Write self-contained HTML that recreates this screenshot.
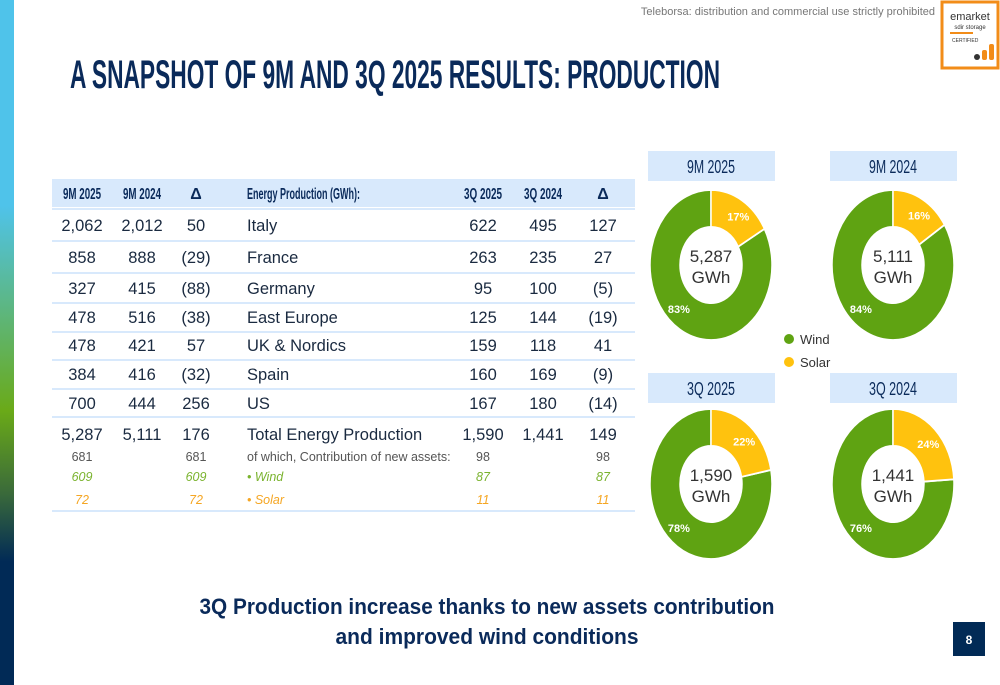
<!DOCTYPE html>
<html><head><meta charset="utf-8"><style>
html,body{margin:0;padding:0;background:#fff;}
svg{display:block;font-family:"Liberation Sans",sans-serif;}
</style></head><body>
<svg id="s" width="1000" height="685" viewBox="0 0 1000 685" xmlns="http://www.w3.org/2000/svg">
<defs>
<linearGradient id="lg" x1="0" y1="0" x2="0" y2="1">
<stop offset="0" stop-color="#4fc3ea"/><stop offset="0.3" stop-color="#4fc3ea"/>
<stop offset="0.6" stop-color="#6aaa18"/><stop offset="0.72" stop-color="#3a6a3a"/>
<stop offset="0.82" stop-color="#012a56"/><stop offset="1" stop-color="#012a56"/>
</linearGradient>
</defs>
<rect x="0" y="0" width="14" height="685" fill="url(#lg)"/>
<text x="935" y="15" font-size="11" fill="#777" text-anchor="end">Teleborsa: distribution and commercial use strictly prohibited</text>
<g>
<rect x="942" y="2" width="56" height="66" fill="#fff" stroke="#f28c18" stroke-width="3"/>
<text x="970" y="20" font-size="11" fill="#333" text-anchor="middle">emarket</text>
<text x="970" y="29" font-size="6" fill="#333" text-anchor="middle">sdir storage</text>
<rect x="950" y="32" width="23" height="2" fill="#f28c18"/>
<text x="952" y="42" font-size="5" fill="#333">CERTIFIED</text>
<circle cx="977" cy="57" r="3" fill="#333"/><rect x="982" y="50" width="5" height="10" rx="2" fill="#f28c18"/><rect x="989" y="44" width="5" height="16" rx="2" fill="#f28c18"/>
</g>
<text x="70" y="88" font-size="40" font-weight="bold" fill="#0a2a5a" textLength="650" lengthAdjust="spacingAndGlyphs">A SNAPSHOT OF 9M AND 3Q 2025 RESULTS: PRODUCTION</text>
<g id="tbl"></g>
<g id="pies"></g>
<g>
<circle cx="789" cy="339" r="5" fill="#5fa312"/>
<text x="800" y="344" font-size="13" fill="#333">Wind</text>
<circle cx="789" cy="362" r="5" fill="#ffc20e"/>
<text x="800" y="367" font-size="13" fill="#333">Solar</text>
</g>
<text x="487" y="614" font-size="22" font-weight="bold" fill="#0a2a5a" text-anchor="middle" textLength="575" lengthAdjust="spacingAndGlyphs">3Q Production increase thanks to new assets contribution</text>
<text x="487" y="644" font-size="22" font-weight="bold" fill="#0a2a5a" text-anchor="middle" textLength="303" lengthAdjust="spacingAndGlyphs">and improved wind conditions</text>
<rect x="953" y="622" width="32" height="34" fill="#012a56"/>
<text x="969" y="644" font-size="12" font-weight="bold" fill="#fff" text-anchor="middle">8</text>
</svg>
<script>
const NS="http://www.w3.org/2000/svg";
// table data
const headers=["9M 2025","9M 2024","Δ","Energy Production (GWh):","3Q 2025","3Q 2024","Δ"];
const countries=["Italy","France","Germany","East Europe","UK & Nordics","Spain","US","Total Energy Production"];
const m9_2025=["2,062","858","327","478","478","384","700","5,287"];
const m9_2024=["2,012","888","415","516","421","416","444","5,111"];
const m9_delta=["50","(29)","(88)","(38)","57","(32)","256","176"];
const q3_2025=["622","263","95","125","159","160","167","1,590"];
const q3_2024=["495","235","100","144","118","169","180","1,441"];
const q3_delta=["127","27","(5)","(19)","41","(9)","(14)","149"];
const subLabels=["of which, Contribution of new assets:","• Wind","• Solar"];
const sub9M=["681","609","72"];
const sub3Q=["98","87","11"];
// donut data
const pieTitles=["9M 2025","9M 2024","3Q 2025","3Q 2024"];
const pieTotals=["5,287","5,111","1,590","1,441"];
const solarPct=[17,16,22,24];
const windPct=[83,84,78,76];

function el(tag,attrs,parent,txt){const e=document.createElementNS(NS,tag);for(const k in attrs)e.setAttribute(k,attrs[k]);if(txt!==undefined)e.textContent=txt;parent.appendChild(e);return e;}
const tbl=document.getElementById('tbl');
const colX=[82,142,196,247,483,543,603];
const navy="#0a2a5a";
const hdr=el('rect',{x:52,y:179,width:583,height:28,fill:"#d8e9fc"},tbl);


headers.forEach((h,i)=>{
  const t=el('text',{x:colX[i],y:199,'font-size':16,'font-weight':'bold',fill:navy,'text-anchor':i==3?'start':'middle'},tbl,h);
  if(i==3){t.setAttribute('textLength',113);t.setAttribute('lengthAdjust','spacingAndGlyphs');}
  else if(h!=="Δ"){t.setAttribute('textLength',38);t.setAttribute('lengthAdjust','spacingAndGlyphs');}
  
  
});
const rowY=[225,257,288,317,345,374,403,434];
const lineY=[208,240,272,302,331,359,388,416];
lineY.forEach(y=>{const l=el('rect',{x:52,y:y,width:583,height:2,fill:"#d8e9fc"},tbl);
  
  });
const bl=el('rect',{x:52,y:510,width:583,height:2,fill:"#d8e9fc"},tbl);


countries.forEach((c,r)=>{
  const vals=[m9_2025[r],m9_2024[r],m9_delta[r],c,q3_2025[r],q3_2024[r],q3_delta[r]];
  vals.forEach((v,i)=>{
    const t=el('text',{x:colX[i],y:rowY[r]+6,'font-size':16.5,fill:"#1a2a40",'text-anchor':i==3?'start':'middle'},tbl,v);
    
    
  });
});
const subY=[461,481,504];const subCol=["#555","#7ab32e","#f5a623"];
subLabels.forEach((s,r)=>{
  const it=r>0?'italic':'normal';
  [[colX[0],sub9M[r],'middle'],[colX[2],sub9M[r],'middle'],[colX[3],s,'start'],[colX[4],sub3Q[r],'middle'],[colX[6],sub3Q[r],'middle']].forEach(([x,v,a],i)=>{
    const t=el('text',{x:x,y:subY[r],'font-size':12.5,'font-style':it,fill:subCol[r],'text-anchor':a},tbl,v);
    
    
  });
});
// donuts
const pies=document.getElementById('pies');
const cxs=[711,893,711,893],cys=[265,265,484,484],hy=[151,151,373,373];
const R=61,r0=31,SY=75/61;
function pt(rad,a){const t=a*Math.PI/180;return [rad*Math.sin(t),-rad*Math.cos(t)];}
function arc(a0,a1){const L=(a1-a0)>180?1:0;const p0=pt(R,a0),p1=pt(R,a1),q1=pt(r0,a1),q0=pt(r0,a0);
 return `M${p0} A${R},${R} 0 ${L} 1 ${p1} L${q1} A${r0},${r0} 0 ${L} 0 ${q0} Z`;}
pieTitles.forEach((ttl,i)=>{
  const cx=cxs[i],cy=cys[i];
  const hb=el('rect',{x:cx-63,y:hy[i],width:127,height:30,fill:"#d8e9fc"},pies);
  
  
  const ht=el('text',{x:cx,y:hy[i]+22,'font-size':18,fill:navy,'text-anchor':'middle',textLength:48,lengthAdjust:'spacingAndGlyphs'},pies,ttl);
  
  
  const g=el('g',{transform:`translate(${cx},${cy}) scale(1,${SY})`},pies);
  const sa=solarPct[i]*3.6;
  const ws=el('path',{d:arc(sa,360),fill:"#5fa312",stroke:"#fff","stroke-width":1.5},g);
  
  
  const ss=el('path',{d:arc(0,sa),fill:"#ffc20e",stroke:"#fff","stroke-width":1.5},g);
  
  
  const sp=pt(48,sa/2+4);
  const sl=el('text',{x:cx+sp[0],y:cy+sp[1]*SY+4,'font-size':11,'font-weight':'bold',fill:"#fff",'text-anchor':'middle'},pies,solarPct[i]+'%');
  
  
  const wp=pt(48,222);
  const wl=el('text',{x:cx+wp[0],y:cy+wp[1]*SY+4,'font-size':11,'font-weight':'bold',fill:"#fff",'text-anchor':'middle'},pies,windPct[i]+'%');
  
  
  const t1=el('text',{x:cx,y:cy-3,'font-size':17,fill:"#333",'text-anchor':'middle'},pies,pieTotals[i]);
  
  
  const t2=el('text',{x:cx,y:cy+18,'font-size':17,fill:"#333",'text-anchor':'middle'},pies,'GWh');
  
  
});
</script>
</body></html>
